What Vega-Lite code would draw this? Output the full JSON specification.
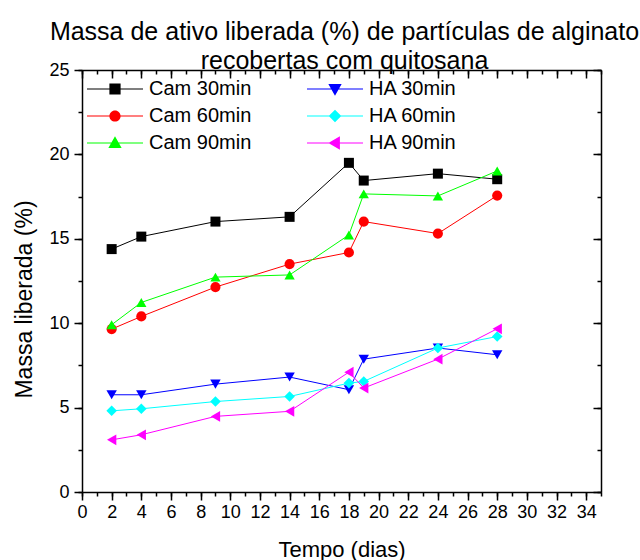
{
  "$schema": "https://vega.github.io/schema/vega-lite/v6.json",
  "autosize": "none",
  "width": 519,
  "height": 422,
  "padding": {"left": 82, "top": 70, "right": 39, "bottom": 68},
  "background": "white",
  "title": {
    "text": ["Massa de ativo liberada (%) de partículas de alginato", "recobertas com quitosana"],
    "font": "Liberation Sans",
    "fontSize": 25,
    "fontWeight": "normal",
    "lineHeight": 29,
    "offset": -13,
    "dx": 3,
    "color": "black"
  },
  "config": {
    "font": "Liberation Sans",
    "view": {"stroke": null},
    "axis": {
      "domainColor": "black",
      "domainWidth": 1.5,
      "tickColor": "black",
      "tickWidth": 1.5,
      "tickSize": 8,
      "grid": false,
      "labelFont": "Liberation Sans",
      "labelFontSize": 18,
      "labelColor": "black",
      "labelOverlap": false,
      "labelFlush": false,
      "labelBound": false,
      "titleFont": "Liberation Sans",
      "titleFontSize": 22,
      "titleFontWeight": "normal",
      "titleColor": "black"
    }
  },
  "resolve": {"scale": {"x": "independent", "y": "independent", "color": "independent", "shape": "independent", "size": "independent"}},
  "data": {
    "values": [
      {"serie": "Cam 30min", "dia": 2, "massa": 14.39},
      {"serie": "Cam 30min", "dia": 4, "massa": 15.13},
      {"serie": "Cam 30min", "dia": 9, "massa": 16.02},
      {"serie": "Cam 30min", "dia": 14, "massa": 16.3},
      {"serie": "Cam 30min", "dia": 18, "massa": 19.5},
      {"serie": "Cam 30min", "dia": 19, "massa": 18.45},
      {"serie": "Cam 30min", "dia": 24, "massa": 18.86},
      {"serie": "Cam 30min", "dia": 28, "massa": 18.53},
      {"serie": "Cam 60min", "dia": 2, "massa": 9.65},
      {"serie": "Cam 60min", "dia": 4, "massa": 10.4},
      {"serie": "Cam 60min", "dia": 9, "massa": 12.14},
      {"serie": "Cam 60min", "dia": 14, "massa": 13.5},
      {"serie": "Cam 60min", "dia": 18, "massa": 14.19},
      {"serie": "Cam 60min", "dia": 19, "massa": 16.02},
      {"serie": "Cam 60min", "dia": 24, "massa": 15.31},
      {"serie": "Cam 60min", "dia": 28, "massa": 17.56},
      {"serie": "Cam 90min", "dia": 2, "massa": 9.91},
      {"serie": "Cam 90min", "dia": 4, "massa": 11.23},
      {"serie": "Cam 90min", "dia": 9, "massa": 12.73},
      {"serie": "Cam 90min", "dia": 14, "massa": 12.86},
      {"serie": "Cam 90min", "dia": 18, "massa": 15.23},
      {"serie": "Cam 90min", "dia": 19, "massa": 17.66},
      {"serie": "Cam 90min", "dia": 24, "massa": 17.54},
      {"serie": "Cam 90min", "dia": 28, "massa": 19.02},
      {"serie": "HA 30min", "dia": 2, "massa": 5.76},
      {"serie": "HA 30min", "dia": 4, "massa": 5.76},
      {"serie": "HA 30min", "dia": 9, "massa": 6.39},
      {"serie": "HA 30min", "dia": 14, "massa": 6.81},
      {"serie": "HA 30min", "dia": 18, "massa": 6.06},
      {"serie": "HA 30min", "dia": 19, "massa": 7.87},
      {"serie": "HA 30min", "dia": 24, "massa": 8.53},
      {"serie": "HA 30min", "dia": 28, "massa": 8.13},
      {"serie": "HA 60min", "dia": 2, "massa": 4.81},
      {"serie": "HA 60min", "dia": 4, "massa": 4.93},
      {"serie": "HA 60min", "dia": 9, "massa": 5.36},
      {"serie": "HA 60min", "dia": 14, "massa": 5.66},
      {"serie": "HA 60min", "dia": 18, "massa": 6.45},
      {"serie": "HA 60min", "dia": 19, "massa": 6.55},
      {"serie": "HA 60min", "dia": 24, "massa": 8.53},
      {"serie": "HA 60min", "dia": 28, "massa": 9.21},
      {"serie": "HA 90min", "dia": 2, "massa": 3.09},
      {"serie": "HA 90min", "dia": 4, "massa": 3.39},
      {"serie": "HA 90min", "dia": 9, "massa": 4.48},
      {"serie": "HA 90min", "dia": 14, "massa": 4.78},
      {"serie": "HA 90min", "dia": 18, "massa": 7.1},
      {"serie": "HA 90min", "dia": 19, "massa": 6.16},
      {"serie": "HA 90min", "dia": 24, "massa": 7.87},
      {"serie": "HA 90min", "dia": 28, "massa": 9.67}
    ]
  },
  "layer": [
    {
      "transform": [{"filter": "datum.dia < 0"}],
      "mark": {"type": "point", "opacity": 0},
      "encoding": {
        "x": {
          "field": "dia", "type": "quantitative",
          "scale": {"domain": [0, 35], "nice": false, "zero": false},
          "axis": {"orient": "bottom", "title": null, "labels": false, "domain": false, "tickSize": 4,
            "values": [0,1,2,3,4,5,6,7,8,9,10,11,12,13,14,15,16,17,18,19,20,21,22,23,24,25,26,27,28,29,30,31,32,33,34,35]}
        },
        "y": {
          "field": "massa", "type": "quantitative",
          "scale": {"domain": [0, 25], "nice": false},
          "axis": {"orient": "left", "title": null, "labels": false, "domain": false, "tickSize": 4,
            "values": [0,2.5,5,7.5,10,12.5,15,17.5,20,22.5,25]}
        }
      }
    },
    {
      "transform": [{"filter": "datum.dia < 0"}],
      "mark": {"type": "point", "opacity": 0},
      "encoding": {
        "x": {
          "field": "dia", "type": "quantitative",
          "scale": {"domain": [0, 35], "nice": false, "zero": false},
          "axis": {"orient": "top", "title": null, "labels": false, "domain": false, "tickSize": -4,
            "values": [0,1,2,3,4,5,6,7,8,9,10,11,12,13,14,15,16,17,18,19,20,21,22,23,24,25,26,27,28,29,30,31,32,33,34,35]}
        },
        "y": {
          "field": "massa", "type": "quantitative",
          "scale": {"domain": [0, 25], "nice": false},
          "axis": {"orient": "right", "title": null, "labels": false, "domain": false, "tickSize": -4,
            "values": [0,2.5,5,7.5,10,12.5,15,17.5,20,22.5,25]}
        }
      }
    },
    {
      "mark": {"type": "line", "strokeWidth": 1},
      "encoding": {
        "x": {
          "field": "dia", "type": "quantitative",
          "scale": {"domain": [0, 35], "nice": false, "zero": false},
          "axis": {"orient": "top", "title": null, "labels": false, "tickSize": -8,
            "values": [0,2,4,6,8,10,12,14,16,18,20,22,24,26,28,30,32,34]}
        },
        "y": {
          "field": "massa", "type": "quantitative",
          "scale": {"domain": [0, 25], "nice": false},
          "axis": {"orient": "right", "title": null, "labels": false, "tickSize": -8,
            "values": [0,5,10,15,20,25]}
        },
        "color": {
          "field": "serie", "type": "nominal",
          "scale": {
            "domain": ["Cam 30min", "Cam 60min", "Cam 90min", "HA 30min", "HA 60min", "HA 90min"],
            "range": ["#000000", "#ff0000", "#00ff00", "#0000ff", "#00ffff", "#ff00ff"]
          },
          "legend": null
        },
        "detail": {"field": "serie"}
      }
    },
    {
      "mark": {"type": "point", "filled": true, "opacity": 1, "strokeWidth": 0},
      "encoding": {
        "x": {
          "field": "dia", "type": "quantitative",
          "scale": {"domain": [0, 35], "nice": false, "zero": false},
          "axis": {
            "orient": "bottom", "title": "Tempo (dias)", "titlePadding": 18,
            "values": [0,2,4,6,8,10,12,14,16,18,20,22,24,26,28,30,32,34],
            "labelPadding": 3
          }
        },
        "y": {
          "field": "massa", "type": "quantitative",
          "scale": {"domain": [0, 25], "nice": false},
          "axis": {
            "orient": "left", "title": "Massa liberada (%)", "titlePadding": 12,
            "titleFontSize": 23,
            "titleY": 229,
            "values": [0,5,10,15,20,25],
            "format": "d",
            "labelPadding": 5
          }
        },
        "color": {
          "field": "serie", "type": "nominal",
          "scale": {
            "domain": ["Cam 30min", "Cam 60min", "Cam 90min", "HA 30min", "HA 60min", "HA 90min"],
            "range": ["#000000", "#ff0000", "#00ff00", "#0000ff", "#00ffff", "#ff00ff"]
          },
          "legend": null
        },
        "shape": {
          "field": "serie", "type": "nominal",
          "scale": {
            "domain": ["Cam 30min", "Cam 60min", "Cam 90min", "HA 30min", "HA 60min", "HA 90min"],
            "range": ["square", "circle", "triangle-up", "triangle-down", "diamond", "triangle-left"]
          },
          "legend": null
        },
        "size": {
          "field": "serie", "type": "nominal",
          "scale": {
            "domain": ["Cam 30min", "Cam 60min", "Cam 90min", "HA 30min", "HA 60min", "HA 90min"],
            "range": [100, 115, 130, 130, 128, 130]
          },
          "legend": null
        }
      }
    },
    {
      "transform": [{"filter": "datum.dia < 0"}],
      "mark": {"type": "point", "filled": true, "opacity": 1, "strokeWidth": 0, "size": 196},
      "encoding": {
        "x": {"field": "dia", "type": "quantitative", "scale": {"domain": [0, 35], "nice": false, "zero": false}, "axis": null},
        "y": {"field": "massa", "type": "quantitative", "scale": {"domain": [0, 25], "nice": false}, "axis": null},
        "color": {
          "field": "serie", "type": "nominal",
          "scale": {
            "domain": ["Cam 30min", "Cam 60min", "Cam 90min", "HA 30min", "HA 60min", "HA 90min"],
            "range": ["#000000", "#ff0000", "#00ff00", "#0000ff", "#00ffff", "#ff00ff"]
          },
          "legend": {
            "title": null,
            "orient": "none",
            "legendX": 2,
            "legendY": 9,
            "columns": 2,
            "columnPadding": 52,
            "rowPadding": 7,
            "padding": 0,
            "labelFont": "Liberation Sans",
            "labelFontSize": 20,
            "labelColor": "black",
            "labelOffset": 45,
            "symbolSize": 196,
            "symbolStrokeWidth": 0,
            "symbolOpacity": 1
          }
        },
        "shape": {
          "field": "serie", "type": "nominal",
          "scale": {
            "domain": ["Cam 30min", "Cam 60min", "Cam 90min", "HA 30min", "HA 60min", "HA 90min"],
            "range": [
              "M-1,-0.07H7V0.07H-1ZM2.2,-0.8H3.8V0.8H2.2Z",
              "M-1,-0.07H7V0.07H-1ZM3.8,0A0.8,0.8,0,1,1,2.2,0A0.8,0.8,0,1,1,3.8,0Z",
              "M-1,-0.07H7V0.07H-1ZM3,-0.95L3.95,0.7H2.05Z",
              "M-1,-0.07H7V0.07H-1ZM3,0.95L2.05,-0.7H3.95Z",
              "M-1,-0.07H7V0.07H-1ZM3,-0.9L3.9,0L3,0.9L2.1,0Z",
              "M-1,-0.07H7V0.07H-1ZM2.05,0L3.7,-0.95V0.95Z"
            ]
          },
          "legend": {
            "title": null,
            "orient": "none",
            "legendX": 2,
            "legendY": 9,
            "columns": 2,
            "columnPadding": 52,
            "rowPadding": 7,
            "padding": 0,
            "labelFont": "Liberation Sans",
            "labelFontSize": 20,
            "labelColor": "black",
            "labelOffset": 45,
            "symbolSize": 196,
            "symbolStrokeWidth": 0,
            "symbolOpacity": 1
          }
        }
      }
    }
  ]
}
